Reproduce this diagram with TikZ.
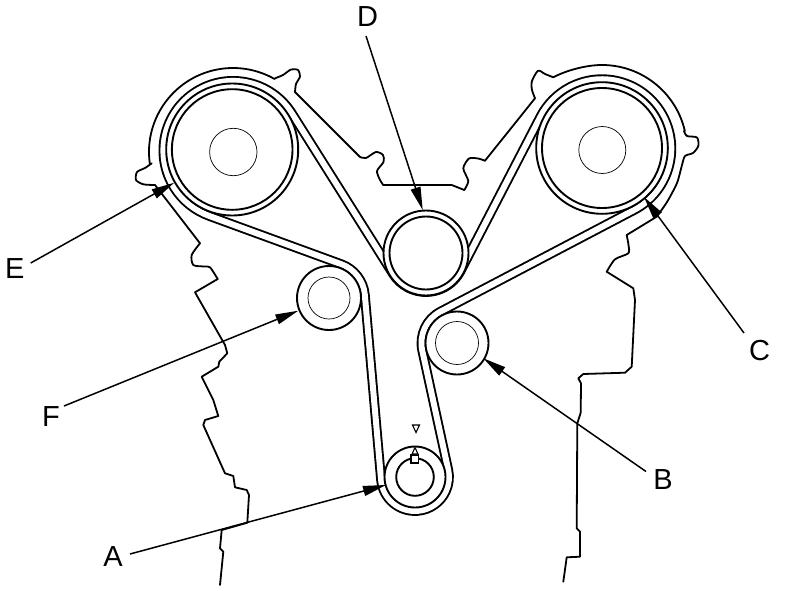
\documentclass[tikz,border=0pt]{standalone}
\usepackage{fontspec}
\setmainfont{Liberation Sans}
\usetikzlibrary{arrows.meta}
\tikzset{
  edgeline/.style={line width=1.8pt,line cap=round,line join=round},
  thinring/.style={line width=0.7pt},
  ring/.style={line width=1.9pt,fill=white},
  beltline/.style={line width=1.9pt,double=white,double distance=6pt,line join=round},
  contour/.style={edgeline,smooth,tension=0.45},
  leader/.style={line width=1.5pt,-{Triangle[length=23pt,width=10pt]}},
  lbl/.style={font=\fontsize{29}{29}\selectfont,inner sep=0pt,anchor=center}
}
\begin{document}
\begin{tikzpicture}[x=1pt,y=1pt,yscale=-1]
\useasboundingbox[fill=white] (0,0) rectangle (800,592);
\coordinate (camL) at (232.2,149.5);
\coordinate (hubL) at (233.3,152);
\coordinate (camR) at (602,148);
\coordinate (hubR) at (602.3,150);
\coordinate (idlerD) at (426,253);
\coordinate (idlerF) at (329,298);
\coordinate (idlerB) at (457,343);
\coordinate (crankA) at (415,477);

% cover, left
\draw[edgeline] (233,152)+(172:84) arc[start angle=172,end angle=299.7,radius=84pt];
\draw[contour] plot coordinates {(275,78.3) (283,75) (291,69.5) (298,70) (300,76.5) (296,84) (295,92)};
\draw[edgeline] (295,92) -- (360,157);
\draw[contour] plot coordinates {(360,157) (366,158) (376,152) (383,155) (383.5,162) (377,171) (380,180) (383.3,185)};
\draw[edgeline] (383.3,185) -- (451.7,185) -- (464.3,190);
\draw[contour] plot coordinates {(464.3,190) (468.3,181) (463.3,168.3) (469,158.5) (478,158.5) (485,160.7)};
\draw[edgeline] (485,160.7) -- (535,98.3);
\draw[contour] plot coordinates {(535,98.3) (532,90) (531.7,81.7) (538,70.7) (545,74) (553.3,77.3)};
\draw[edgeline] (553.3,77.3) .. controls (565,71) and (585,65) .. (602,65) arc[start angle=-90,end angle=-12.9,radius=85pt];
\draw[contour] plot coordinates {(684,131) (687,136) (697,137.5) (698.3,146) (693,153) (685,156) (682,165) (677,183) (667,202) (656.7,216.7)};
\draw[edgeline] (656.7,216.7) -- (626.7,235);
\draw[contour] plot coordinates {(626.7,235) (628.5,245) (628.3,253.3) (615,259.3) (606.7,271.7)};
\draw[edgeline] (606.7,271.7) -- (633.3,288.3) -- (635,300) -- (631.7,366.7) -- (625,372.7) -- (583.3,374) -- (578.3,378.3) -- (581,383.3) -- (580.7,412.7) -- (577.3,423.3) -- (576.7,528.3) -- (580,531.7) -- (580,556.7) -- (566.7,557.3) -- (563.3,581.7);
% cover, lower left
\draw[contour] plot coordinates {(151.7,163.3) (145,168) (137,172) (136,180) (143.3,184.3) (155,185)};
\draw[edgeline] (155,185) -- (200,243.3);
\draw[contour] plot coordinates {(200,243.3) (191.7,255) (193.3,265) (204,266.5) (210,267.3) (217.7,279)};
\draw[edgeline] (217.7,279) -- (195,292.3) -- (225,345) -- (227.3,353.3) -- (219.3,361.7) -- (218.3,366.7) -- (201.7,376.7) -- (213.3,400) -- (218.3,416) -- (205,420) -- (203.3,425) -- (225,473.3) -- (233.3,476) -- (235,487.3) -- (246.7,490) -- (249,495) -- (247.3,522.7) -- (221.7,530) -- (220,548.3) -- (223.3,551.7) -- (220,585);

% belt
\draw[beltline] (209.1,215.9) -- (341.3,264.2) arc[start angle=-69.95,end angle=-5.1,radius=36pt]
  -- (381.1,480) arc[start angle=174.9,end angle=-12.3,radius=34pt]
  -- (422.3,350.6) arc[start angle=167.7,end angle=242.3,radius=35.5pt]
  -- (634.2,209.9) arc[start angle=62.3,end angle=-152.64,radius=69.3pt]
  -- (460.6,270.9) arc[start angle=27.36,end angle=147.77,radius=39pt]
  -- (291.9,113.4) arc[start angle=-32.23,end angle=-249.95,radius=69.6pt] -- cycle;

% pulleys
\draw[ring] (camL) circle[radius=66pt];
\draw[ring] (camL) circle[radius=60.3pt];
\draw[thinring] (hubL) circle[radius=23.7pt];
\draw[ring] (camR) circle[radius=65.8pt];
\draw[ring] (camR) circle[radius=60pt];
\draw[thinring] (hubR) circle[radius=23.5pt];
\draw[ring] (idlerD) circle[radius=42.5pt];
\draw[ring] (idlerD) circle[radius=36.5pt];
\draw[ring] (idlerF) circle[radius=32pt];
\draw[thinring] (idlerF) circle[radius=21pt];
\draw[ring] (idlerB) circle[radius=31.5pt];
\draw[thinring] (idlerB) circle[radius=21.5pt];
\draw[ring] (crankA) circle[radius=30.5pt];
\draw[ring] (crankA) circle[radius=18.8pt];
% timing marks
\draw[line width=1.3pt,fill=white] (411,455) rectangle (418.5,463);
\draw[line width=1.1pt,fill=white] (412,454) -- (415,447.5) -- (418,454) -- cycle;
\draw[line width=1.1pt,fill=white] (412.5,425) -- (419.5,425) -- (416,432.5) -- cycle;

% labels
\node[lbl] (labA) at (113,556.5) {A};
\node[lbl] (labB) at (663,480) {B};
\node[lbl] (labC) at (759.5,350.5) {C};
\node[lbl] (labD) at (367.5,16.5) {D};
\node[lbl] (labE) at (14.7,269) {E};
\node[lbl] (labF) at (51,417) {F};
% leaders
\coordinate (tipA) at (386,485);
\coordinate (tipB) at (483.3,358.3);
\coordinate (tipC) at (644,197);
\coordinate (tipD) at (422.7,210);
\coordinate (tipE) at (174.3,182.7);
\coordinate (tipF) at (298.3,310.7);
\draw[leader] (130,554) -- (tipA);
\draw[leader] (646,471.5) -- (tipB);
\draw[leader] (744,333) -- (tipC);
\draw[leader] (366,36) -- (tipD);
\draw[leader] (30.7,263) -- (tipE);
\draw[leader] (64,406) -- (tipF);
\end{tikzpicture}
\end{document}
